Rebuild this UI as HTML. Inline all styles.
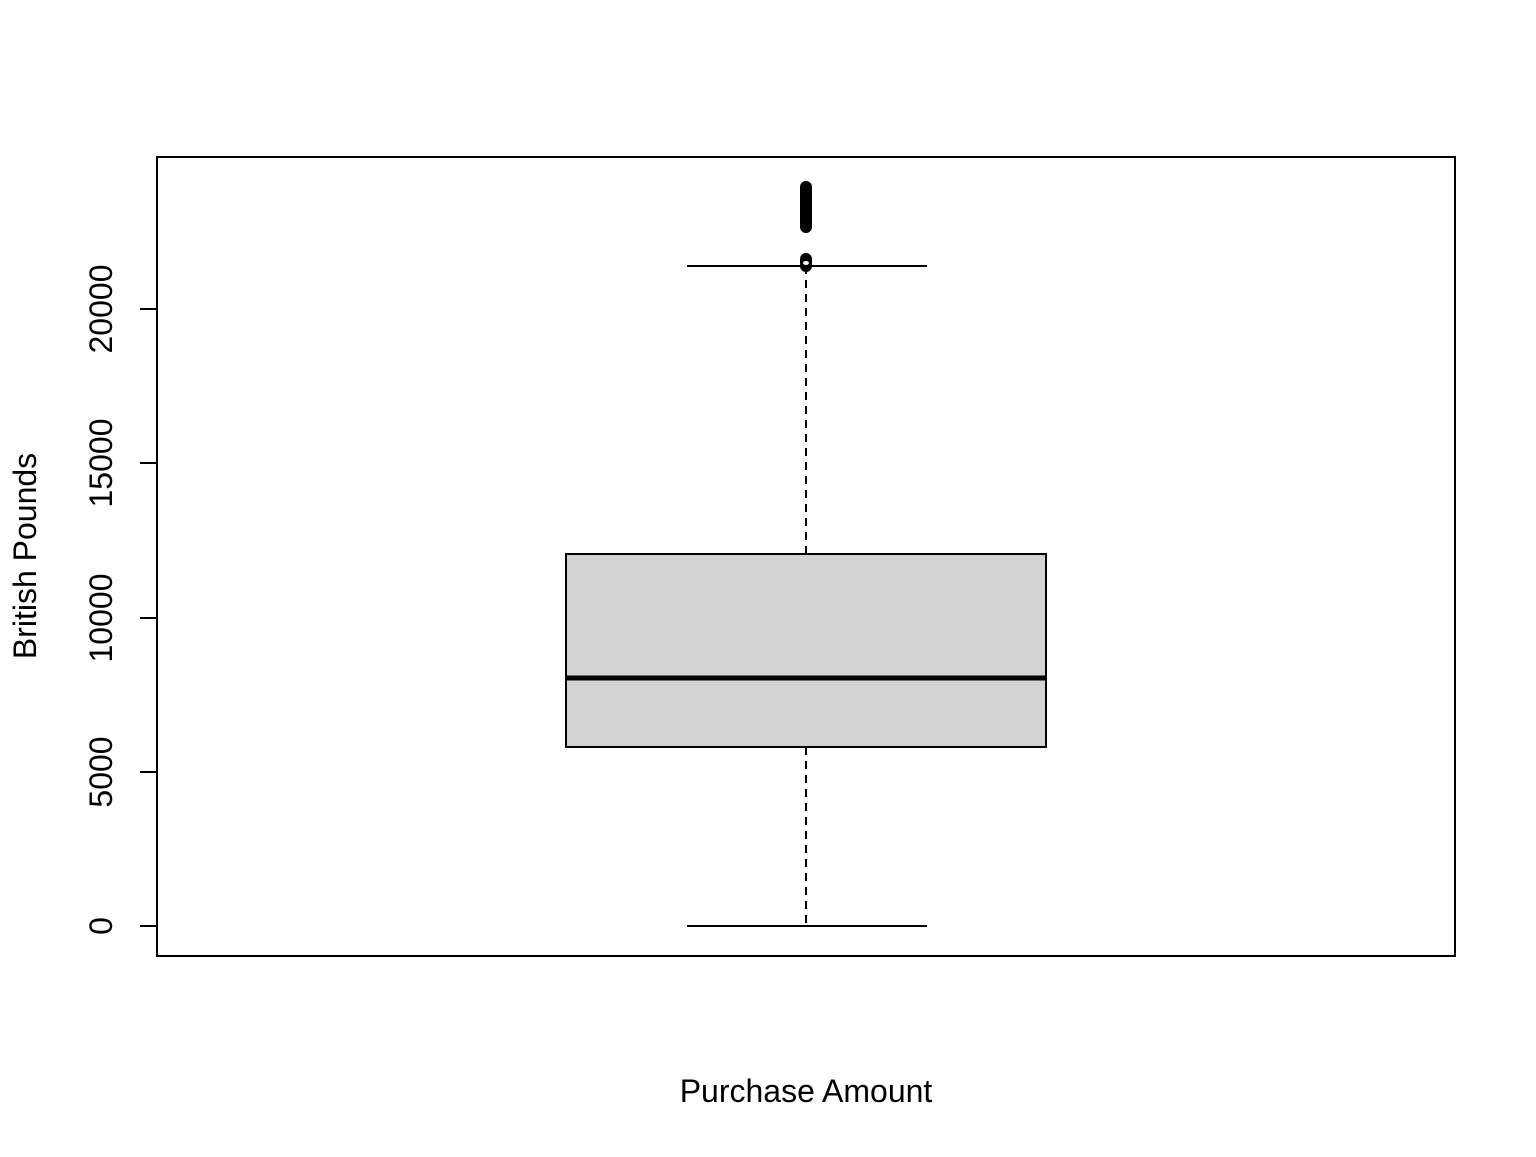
<!DOCTYPE html>
<html><head><style>body{margin:0;background:#fff}</style></head><body>
<svg width="1536" height="1152" xmlns="http://www.w3.org/2000/svg" font-family="Liberation Sans, Arial, sans-serif">
<rect width="1536" height="1152" fill="#fff"/>
<rect x="157" y="157" width="1298" height="799" fill="none" stroke="#000" stroke-width="2"/>
<g stroke="#000" stroke-width="2">
<line x1="140" y1="926" x2="157" y2="926"/>
<line x1="140" y1="772" x2="157" y2="772"/>
<line x1="140" y1="618" x2="157" y2="618"/>
<line x1="140" y1="463" x2="157" y2="463"/>
<line x1="140" y1="309" x2="157" y2="309"/>
</g>
<g font-size="32" text-anchor="middle" fill="#000">
<text transform="translate(112,926) rotate(-90)">0</text>
<text transform="translate(112,772) rotate(-90)">5000</text>
<text transform="translate(112,618) rotate(-90)">10000</text>
<text transform="translate(112,463) rotate(-90)">15000</text>
<text transform="translate(112,309) rotate(-90)">20000</text>
<text transform="translate(36,556) rotate(-90)">British Pounds</text>
<text x="806" y="1102">Purchase Amount</text>
</g>
<g stroke="#000" stroke-width="2">
<line x1="806" y1="747" x2="806" y2="926" stroke-dasharray="8,6"/>
<line x1="806" y1="554" x2="806" y2="266" stroke-dasharray="8,6"/>
<line x1="687" y1="926" x2="927" y2="926"/>
<line x1="687" y1="266" x2="927" y2="266"/>
<rect x="566" y="554" width="480" height="193" fill="#d3d3d3"/>
<line x1="566" y1="678" x2="1046" y2="678" stroke-width="5"/>
</g>
<rect x="800" y="181" width="12" height="52" rx="6" fill="#000"/>
<rect x="800" y="253" width="12" height="19" rx="6" fill="#000"/>
<ellipse cx="806" cy="263" rx="3" ry="2" fill="#fff"/>
</svg>
</body></html>
